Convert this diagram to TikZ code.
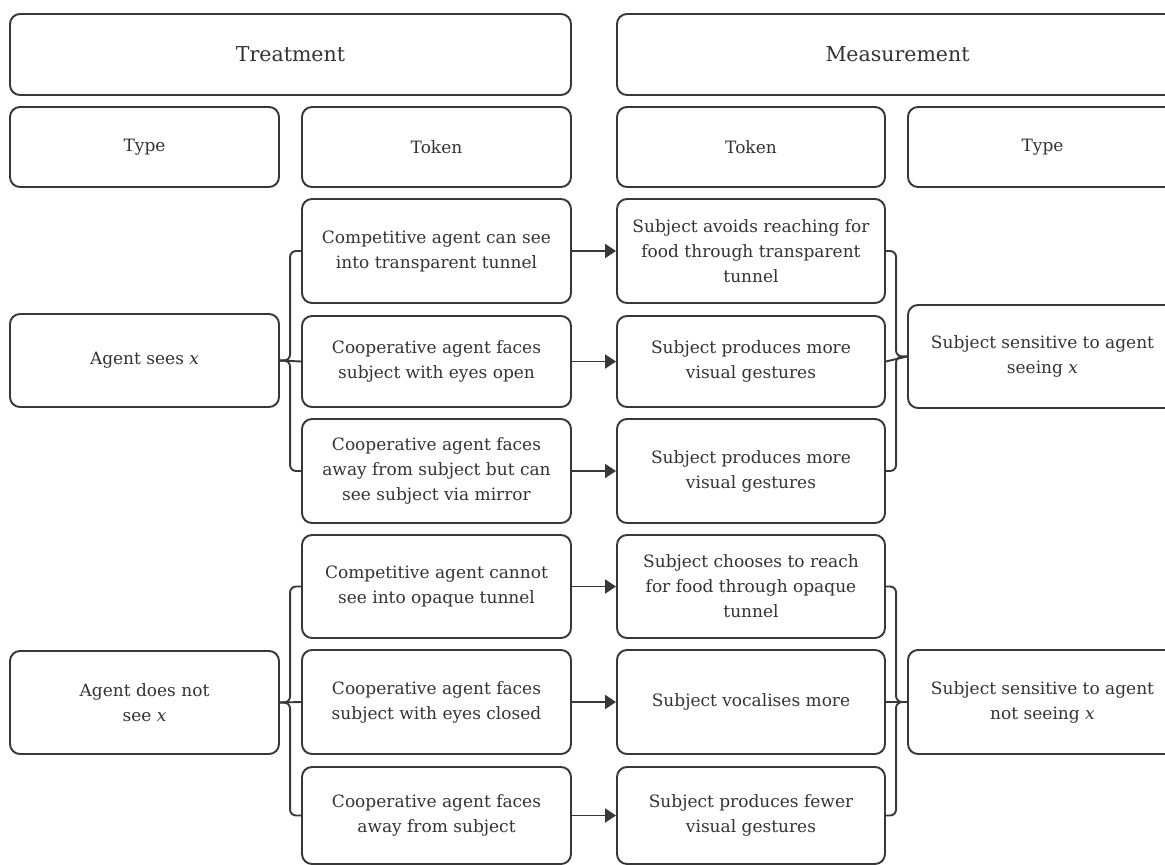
\documentclass[tikz,border=0pt]{standalone}
\usepackage{fontspec}
\setmainfont{DejaVu Serif}
\usetikzlibrary{arrows.meta,calc}
\definecolor{lc}{HTML}{383838}
\definecolor{tc}{HTML}{333333}
\begin{document}
\begin{tikzpicture}[x=1pt,y=-1pt,
  box/.style={draw=lc, line width=1.9pt, rounded corners=10pt, align=center,
    inner sep=0pt, text=tc, font=\fontsize{17}{25}\selectfont},
  head/.style={box, font=\fontsize{20.5}{25}\selectfont},
  conn/.style={draw=lc, line width=1.9pt, rounded corners=6pt},
  arr/.style={draw=lc, line width=1.9pt, -{Triangle[length=11pt,width=14pt]}}]
\useasboundingbox (0,0) rectangle (1165,865);
\fill[white] (0,0) rectangle (1165,865);
\clip (0,0) rectangle (1165,865);
% headers
\node[head, minimum width=561pt, minimum height=81pt] (treat) at (290.5,54.5) {Treatment};
\node[head, minimum width=561pt, minimum height=81pt] (meas) at (897.5,54.5) {Measurement};
\node[box, minimum width=269pt, minimum height=80pt] (typeL) at (144.5,147) {Type};
\node[box, minimum width=269pt, minimum height=80pt] (tokL) at (436.5,147) {Token};
\node[box, minimum width=268pt, minimum height=80pt] (tokR) at (751,147) {Token};
\node[box, minimum width=269pt, minimum height=80pt] (typeR) at (1042.5,147) {Type};
% type (treatment)
\node[box, minimum width=269pt, minimum height=93pt] (A1) at (144.5,360.5) {Agent sees \textit{x}};
\node[box, minimum width=269pt, minimum height=103pt] (A2) at (144.5,702.5) {Agent does not\\see \textit{x}};
% token (treatment)
\node[box, minimum width=269pt, minimum height=104pt] (T1) at (436.5,251) {Competitive agent can see\\into transparent tunnel};
\node[box, minimum width=269pt, minimum height=91pt] (T2) at (436.5,361.5) {Cooperative agent faces\\subject with eyes open};
\node[box, minimum width=269pt, minimum height=104pt] (T3) at (436.5,471) {Cooperative agent faces\\away from subject but can\\see subject via mirror};
\node[box, minimum width=269pt, minimum height=103pt] (T4) at (436.5,586.5) {Competitive agent cannot\\see into opaque tunnel};
\node[box, minimum width=269pt, minimum height=104pt] (T5) at (436.5,702) {Cooperative agent faces\\subject with eyes closed};
\node[box, minimum width=269pt, minimum height=97pt] (T6) at (436.5,815.5) {Cooperative agent faces\\away from subject};
% token (measurement)
\node[box, minimum width=268pt, minimum height=104pt] (M1) at (751,251) {Subject avoids reaching for\\food through transparent\\tunnel};
\node[box, minimum width=268pt, minimum height=91pt] (M2) at (751,361.5) {Subject produces more\\visual gestures};
\node[box, minimum width=268pt, minimum height=104pt] (M3) at (751,471) {Subject produces more\\visual gestures};
\node[box, minimum width=268pt, minimum height=103pt] (M4) at (751,586.5) {Subject chooses to reach\\for food through opaque\\tunnel};
\node[box, minimum width=268pt, minimum height=104pt] (M5) at (751,702) {Subject vocalises more};
\node[box, minimum width=268pt, minimum height=97pt] (M6) at (751,815.5) {Subject produces fewer\\visual gestures};
% type (measurement)
\node[box, minimum width=269pt, minimum height=103pt] (S1) at (1042.5,356.5) {Subject sensitive to agent\\seeing \textit{x}};
\node[box, minimum width=269pt, minimum height=104pt] (S2) at (1042.5,702) {Subject sensitive to agent\\not seeing \textit{x}};
% left braces
\draw[conn] (A1.east) -| ($(T1.west)-(11,0)$) -- (T1.west);
\draw[conn] (A1.east) -- (T2.west);
\draw[conn] (A1.east) -| ($(T3.west)-(11,0)$) -- (T3.west);
\draw[conn] (A2.east) -| ($(T4.west)-(11,0)$) -- (T4.west);
\draw[conn] (A2.east) -- (T5.west);
\draw[conn] (A2.east) -| ($(T6.west)-(11,0)$) -- (T6.west);
% arrows
\draw[arr] (T1.east) -- (M1.west);
\draw[arr] (T2.east) -- (M2.west);
\draw[arr] (T3.east) -- (M3.west);
\draw[arr] (T4.east) -- (M4.west);
\draw[arr] (T5.east) -- (M5.west);
\draw[arr] (T6.east) -- (M6.west);
% right braces
\draw[conn] (M1.east) -| ($(S1.west)-(11,0)$) -- (S1.west);
\draw[conn] (M2.east) -- (S1.west);
\draw[conn] (M3.east) -| ($(S1.west)-(11,0)$) -- (S1.west);
\draw[conn] (M4.east) -| ($(S2.west)-(11,0)$) -- (S2.west);
\draw[conn] (M5.east) -- (S2.west);
\draw[conn] (M6.east) -| ($(S2.west)-(11,0)$) -- (S2.west);
\end{tikzpicture}
\end{document}
